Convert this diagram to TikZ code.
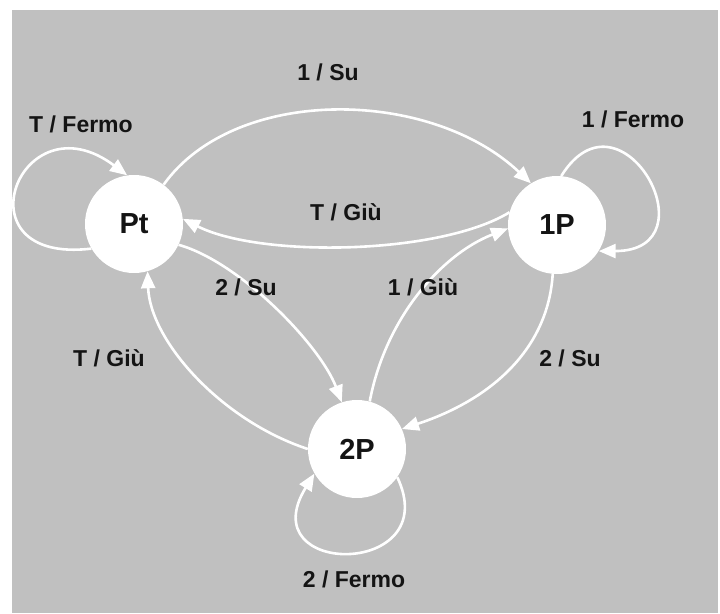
\documentclass[tikz,border=0pt]{standalone}
\usepackage{fontspec}
\setmainfont{Liberation Sans}
\usetikzlibrary{arrows.meta}
\definecolor{panel}{HTML}{C0C0C0}
\definecolor{ink}{HTML}{141414}
\begin{document}
\begin{tikzpicture}[x=1pt,y=1pt,
  state/.style={circle, fill=white, minimum size=98pt, inner sep=0pt,
    font=\fontsize{29}{33}\selectfont\bfseries, text=ink},
  lbl/.style={anchor=base, inner sep=0pt,
    font=\fontsize{23}{27}\selectfont\bfseries, text=ink},
  trans/.style={draw=white, line width=2.6pt,
    -{Triangle[length=17pt,width=14pt]}}]
\useasboundingbox (0,0) rectangle (720,-613);
\fill[panel] (12,-10) rectangle (718,-613);

% states
\node[state] (pt) at (134,-224) {Pt};
\node[state] (p1) at (557,-225) {1P};
\node[state] (p2) at (357,-449) {2P};

% transitions between states
\draw[trans] (pt.53) .. controls (235,-85) and (430,-88) .. (p1.122);
\draw[trans] (p1.165) .. controls (440,-255) and (260,-258) .. (pt.6);
\draw[trans] (pt.-25) .. controls (240,-262) and (320,-345) .. (p2.108);
\draw[trans] (p2.75) .. controls (385,-320) and (440,-255) .. (p1.184);
\draw[trans] (p1.-95) .. controls (548,-350) and (490,-400) .. (p2.24);
\draw[trans] (p2.180) .. controls (220,-420) and (150,-340) .. (pt.-74);

% self loops
\draw[trans] (pt.210) .. controls (-45,-265) and (20,-95) .. (pt.98);
\draw[trans] (p1.85) .. controls (621,-80) and (715,-251) .. (p1.-32);
\draw[trans] (p2.-35) .. controls (445,-578) and (250,-578) .. (p2.210);

% labels
\node[lbl] (l1) at (328,-80) {1 / Su};
\node[lbl] (l2) at (346,-220) {T / Giù};
\node[lbl] (l3) at (81,-132) {T / Fermo};
\node[lbl] (l4) at (633,-127) {1 / Fermo};
\node[lbl] (l5) at (246,-295) {2 / Su};
\node[lbl] (l6) at (423,-295) {1 / Giù};
\node[lbl] (l7) at (570,-366) {2 / Su};
\node[lbl] (l8) at (109,-366) {T / Giù};
\node[lbl] (l9) at (354,-587) {2 / Fermo};
\end{tikzpicture}
\end{document}
